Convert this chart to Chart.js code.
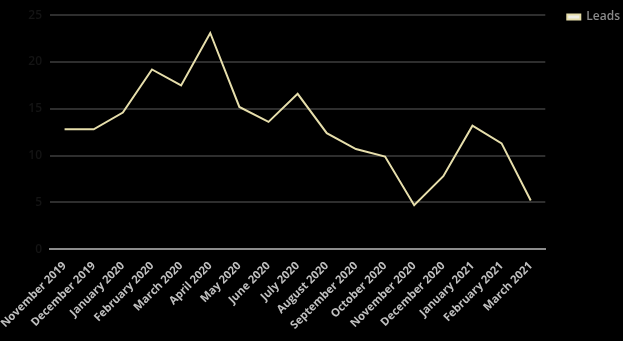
<!DOCTYPE html>
<html>
<head>
<meta charset="utf-8">
<script src="https://cdn.jsdelivr.net/npm/chart.js@4.4.1/dist/chart.umd.min.js"></script>
<style>
  html, body { margin: 0; padding: 0; background: #000; overflow: hidden; }
  #wrap { width: 630px; height: 341px; position: relative; }
</style>
</head>
<body>
<div id="wrap"><canvas id="c"></canvas></div>
<script>
// Monthly leads, November 2019 – March 2021
const months = [
  'November 2019', 'December 2019', 'January 2020', 'February 2020', 'March 2020',
  'April 2020', 'May 2020', 'June 2020', 'July 2020', 'August 2020',
  'September 2020', 'October 2020', 'November 2020', 'December 2020',
  'January 2021', 'February 2021', 'March 2021'
];
const leads = [12.8, 12.8, 14.6, 19.2, 17.5, 23.1, 15.2, 13.6, 16.6, 12.4, 10.7, 9.9, 4.7, 7.8, 13.2, 11.3, 5.2];
const yTicks = [0, 5, 10, 15, 20, 25];

new Chart(document.getElementById('c'), {
  type: 'line',
  data: {
    labels: months,
    datasets: [{
      label: 'Leads',
      data: leads,
      borderColor: '#e6deab',
      backgroundColor: '#eeeee6',
      borderWidth: 2,
      pointRadius: 0,
      tension: 0,
      fill: false
    }]
  },
  options: {
    responsive: true,
    maintainAspectRatio: false,
    animation: false,
    layout: { padding: { left: 0, top: 3, right: 0, bottom: 7 } },
    plugins: {
      legend: {
        position: 'right',
        align: 'start',
        labels: {
          color: '#8a8a8a',
          font: { family: 'Open Sans', size: 12, weight: '600' },
          boxWidth: 13,
          boxHeight: 5,
          padding: 8
        }
      },
      tooltip: { enabled: false }
    },
    scales: {
      x: {
        offset: true,
        grid: { display: false },
        border: { display: true, color: '#8c8c8c', width: 2 },
        ticks: {
          color: '#c0c0c0',
          font: { family: 'Open Sans', size: 11.2, weight: '700' },
          maxRotation: 45,
          minRotation: 45,
          autoSkip: false,
          padding: 2
        }
      },
      y: {
        min: yTicks[0],
        max: yTicks[yTicks.length - 1],
        afterBuildTicks: (axis) => { axis.ticks = yTicks.map(v => ({ value: v })); },
        grid: { color: '#2e2e2e', lineWidth: 2, drawTicks: false },
        border: { display: false },
        ticks: {
          color: '#141414',
          font: { family: 'Open Sans', size: 12, weight: '600' },
          padding: 8
        }
      },
      // empty gutter between the plot and the legend
      gutter: {
        type: 'linear',
        position: 'right',
        display: true,
        grid: { display: false },
        border: { display: false },
        ticks: { display: false },
        afterFit: (axis) => { axis.width = 14; }
      }
    }
  }
});
</script>
</body>
</html>
